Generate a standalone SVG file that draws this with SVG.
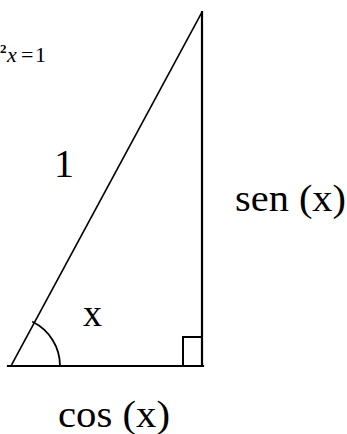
<svg xmlns="http://www.w3.org/2000/svg" width="347" height="434" viewBox="0 0 347 434">
<style>
.ln{stroke:#000;fill:none;stroke-linecap:square}
.lbl{font-family:"Liberation Serif","DejaVu Serif",serif;fill:#000}
</style>
<rect width="347" height="434" fill="#fff"/>
<g id="connectors">
<line class="ln" x1="11" y1="366" x2="202" y2="12" stroke-width="1.6"/>
<line class="ln" x1="202" y1="12" x2="202" y2="366" stroke-width="2.2"/>
<line class="ln" x1="8" y1="366" x2="203" y2="366" stroke-width="2.2"/>
<polyline class="ln" points="183,366 183,337 202,337" stroke-width="2"/>
<path class="ln" d="M33,322 A49,49 0 0 1 60,366" stroke-width="1.8"/>
</g>
<g id="formula">
<text class="lbl" x="0" y="53" font-size="13" font-weight="bold">2</text>
<text class="lbl" font-size="22" y="62"><tspan x="7" font-style="italic">x</tspan><tspan x="21">=</tspan><tspan x="35">1</tspan></text>
</g>
<g id="hyp-label"><text class="lbl" x="64" y="177" font-size="40" text-anchor="middle">1</text></g>
<g id="angle-label"><text class="lbl" x="83" y="326" font-size="38">x</text></g>
<g id="sin-label"><text class="lbl" x="235" y="211" font-size="38" textLength="111" lengthAdjust="spacingAndGlyphs">sen (x)</text></g>
<g id="cos-label"><text class="lbl" x="58" y="427" font-size="38" textLength="112" lengthAdjust="spacingAndGlyphs">cos (x)</text></g>
</svg>
